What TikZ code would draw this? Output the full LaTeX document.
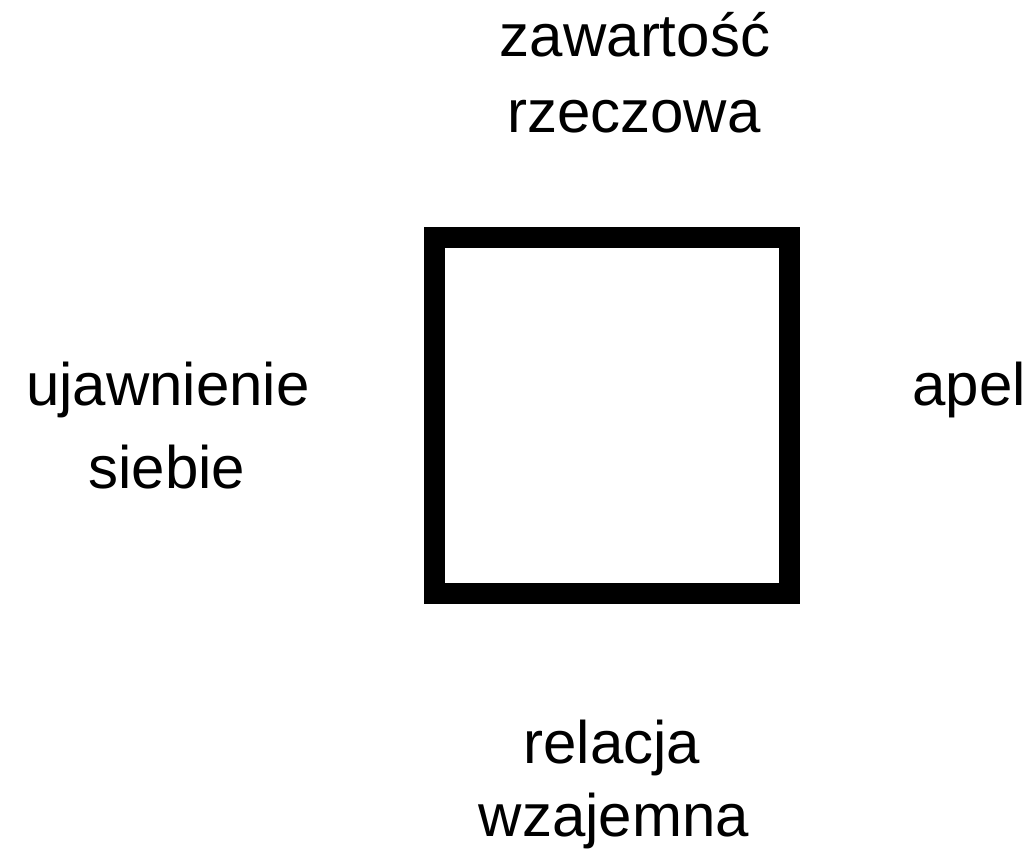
\documentclass[tikz,border=0pt]{standalone}
\usepackage{fontspec}
\setmainfont{Liberation Sans}
\begin{document}
\begin{tikzpicture}[x=1pt,y=-1pt,
  lbl/.style={anchor=base,inner sep=0pt,font=\fontsize{60}{60}\selectfont},
  frame/.style={draw=black,line width=21pt,fill=white}]
\useasboundingbox (0,0) rectangle (1033,854);
\draw[frame] (434.5,237.5) rectangle (789.5,593.5);
\node[lbl] (top1) at (635,56) {zawartość};
\node[lbl] (top2) at (634,132) {rzeczowa};
\node[lbl] (left1) at (168,405) {ujawnienie};
\node[lbl] (left2) at (167,488) {siebie};
\node[lbl] (right1) at (969,405) {apel};
\node[lbl] (bot1) at (612,763) {relacja};
\node[lbl] (bot2) at (614,836) {wzajemna};
\end{tikzpicture}
\end{document}
